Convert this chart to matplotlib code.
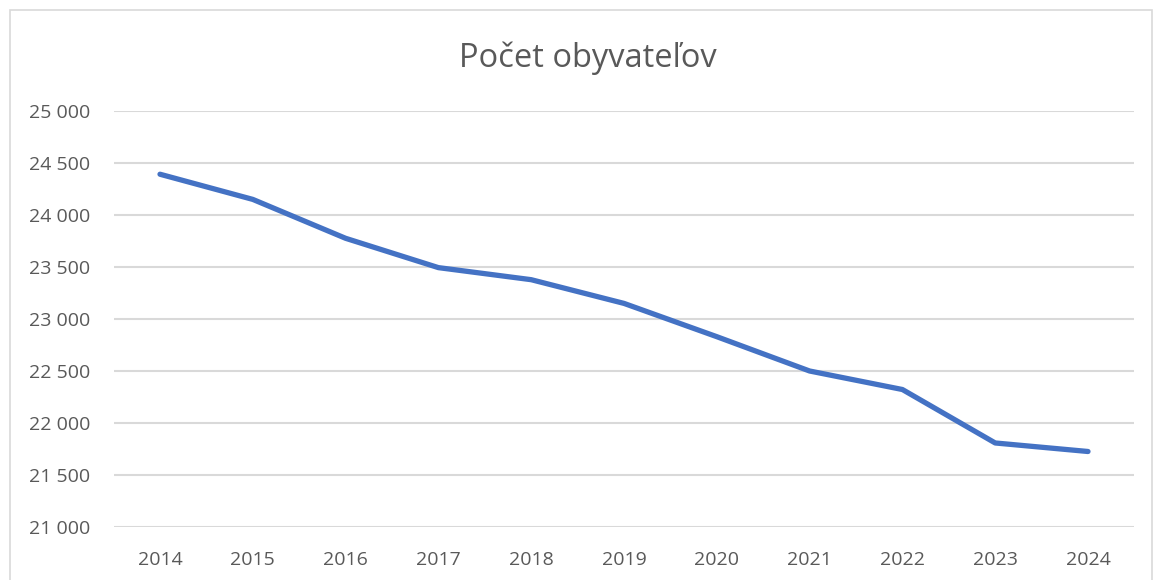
import matplotlib
matplotlib.use("Agg")
import matplotlib.pyplot as plt
from matplotlib.patches import Rectangle
from matplotlib.ticker import FuncFormatter

years = ["2014", "2015", "2016", "2017", "2018", "2019", "2020", "2021", "2022", "2023", "2024"]
population = [24392, 24150, 23776, 23494, 23378, 23150, 22830, 22500, 22322, 21808, 21726]
y_ticks = [21000, 21500, 22000, 22500, 23000, 23500, 24000, 24500, 25000]

plt.rcParams['font.family'] = ['Open Sans', 'DejaVu Sans']

W, H = 1154, 580
fig = plt.figure(figsize=(W / 100, H / 100), dpi=100)
fig.patch.set_facecolor("white")

# chart border
fig.patches.append(Rectangle((10 / W, -0.05), (1152 - 10) / W, 1 - 10 / H + 0.05,
                             transform=fig.transFigure, fill=False,
                             edgecolor="#d9d9d9", linewidth=1.2))

ax = fig.add_axes([113.6 / W, 1 - 527 / H, (1134.4 - 113.6) / W, (527 - 111) / H])
x = list(range(len(years)))
ax.plot(x, population, color="#4472C4", linewidth=3.8, solid_capstyle="round",
        solid_joinstyle="round", zorder=3)

ax.set_xlim(-0.5, len(years) - 0.5)
ax.set_ylim(21000, 25000)
ax.set_yticks(y_ticks)
ax.yaxis.set_major_formatter(FuncFormatter(lambda v, p: f"{int(v):,}".replace(",", " ")))
ax.set_xticks(x)
ax.set_xticklabels(years)
ax.grid(axis="y", color="#d9d9d9", linewidth=1.5)
ax.set_axisbelow(True)
for s in ax.spines.values():
    s.set_visible(False)
ax.tick_params(axis="both", length=0, labelsize=14, colors="#595959")
ax.tick_params(axis="y", pad=17)
ax.tick_params(axis="x", pad=17)

fig.text(588 / W, 1 - 58 / H, "Počet obyvateľov", ha="center", va="center",
         fontsize=23.5, color="#595959")

fig.savefig("out.png", dpi=100)
